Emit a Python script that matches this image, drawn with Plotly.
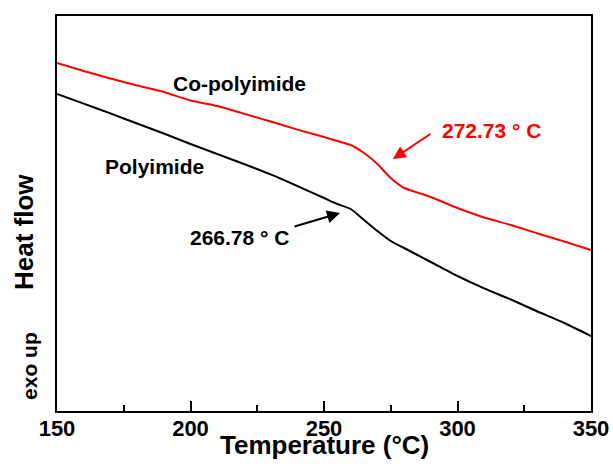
import plotly.graph_objects as go

# Temperature (°C)
temp = [150, 160, 170, 180, 190, 200, 210, 220, 230, 240, 250, 255, 260, 265,
        270, 275, 280, 285, 290, 300, 310, 320, 330, 340, 350]
# Heat flow (a.u.), exo up
co_polyimide = [350, 342, 334.5, 327.5, 321, 312.5, 307, 299.3, 291.5, 283.4, 276, 272,
                268, 260, 249, 235, 225, 220.5, 216, 205, 195.5, 188, 179.5, 171.5, 163]
polyimide = [319, 309.4, 299.6, 289.5, 279.5, 269, 259, 249, 238.6, 227, 215, 209,
             204, 193, 182, 172, 165, 158, 151, 137, 124.6, 113.5, 101.5, 90, 77]
x_ticks = [150, 200, 250, 300, 350]

FONT = "Arial, Liberation Sans, sans-serif"

fig = go.Figure()
fig.add_trace(go.Scatter(x=temp, y=co_polyimide, mode="lines",
                         line=dict(color="#ff0000", width=2, shape="spline", smoothing=0.6),
                         name="Co-polyimide"))
fig.add_trace(go.Scatter(x=temp, y=polyimide, mode="lines",
                         line=dict(color="#000000", width=2, shape="spline", smoothing=0.6),
                         name="Polyimide"))

fig.update_layout(
    template="none",
    width=613, height=464,
    margin=dict(l=57, r=22, t=16, b=53, pad=0),
    paper_bgcolor="white", plot_bgcolor="white",
    showlegend=False,
    font=dict(family=FONT, color="black"),
)
fig.update_xaxes(
    range=[150, 350], tickvals=x_ticks, ticktext=[str(v) for v in x_ticks],
    ticks="inside", ticklen=10, tickwidth=2, tickcolor="black",
    minor=dict(ticks="inside", ticklen=6, tickwidth=2, tickcolor="black", dtick=25, showgrid=False),
    showline=True, linecolor="black", linewidth=2, mirror=True,
    showgrid=False, zeroline=False, automargin=False,
    ticklabelstandoff=-3,
    tickfont=dict(family=FONT, size=22, color="black", weight="bold"),
)
fig.update_yaxes(
    range=[2, 397], showticklabels=False, ticks="",
    showline=True, linecolor="black", linewidth=2, mirror=True,
    showgrid=False, zeroline=False, automargin=False,
)

def txt(x, y, s, color="black", size=21):
    fig.add_annotation(x=x, y=y, xref="x", yref="y", text=s, showarrow=False,
                       xanchor="center", yanchor="middle",
                       font=dict(family=FONT, size=size, color=color, weight="bold"))

txt(218.2, 330, "Co-polyimide")
txt(186.7, 247, "Polyimide")
txt(218.5, 176, "266.78 ° C")
txt(312.9, 283, "272.73 ° C", color="#ff0000")

# arrows
fig.add_annotation(x=256.0, y=200, ax=238.4, ay=186, xref="x", yref="y", axref="x", ayref="y",
                   text="", showarrow=True, arrowhead=2, arrowsize=1.3, arrowwidth=2, arrowcolor="black")
fig.add_annotation(x=275.8, y=254, ax=290.4, ay=280, xref="x", yref="y", axref="x", ayref="y",
                   text="", showarrow=True, arrowhead=2, arrowsize=1.3, arrowwidth=2, arrowcolor="#ff0000")

# axis titles
fig.add_annotation(x=0.5, y=-0.085, xref="paper", yref="paper", text="Temperature (°C)",
                   showarrow=False, xanchor="center", yanchor="middle",
                   font=dict(family=FONT, size=26, color="black", weight="bold"))
fig.add_annotation(x=-0.063, y=0.454, xref="paper", yref="paper", text="Heat flow", textangle=-90,
                   showarrow=False, xanchor="center", yanchor="middle",
                   font=dict(family=FONT, size=26, color="black", weight="bold"))
fig.add_annotation(x=-0.0506, y=0.114, xref="paper", yref="paper", text="exo up", textangle=-90,
                   showarrow=False, xanchor="center", yanchor="middle",
                   font=dict(family=FONT, size=21, color="black", weight="bold"))

fig.write_html("out.html")
